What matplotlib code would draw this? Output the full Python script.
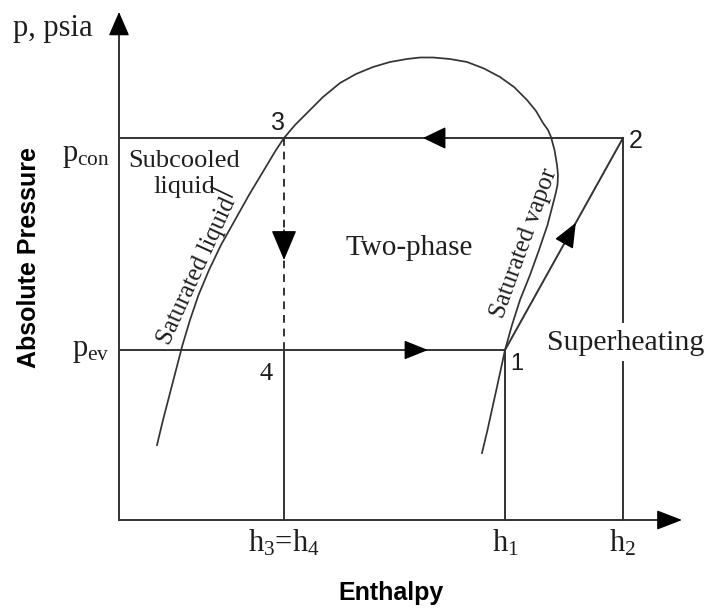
import matplotlib
matplotlib.use('Agg')
import matplotlib.pyplot as plt

plt.rcParams['mathtext.fontset'] = 'custom'
plt.rcParams['mathtext.rm'] = 'Liberation Serif'
plt.rcParams['mathtext.it'] = 'Liberation Serif:italic'
plt.rcParams['mathtext.bf'] = 'Liberation Serif:bold'

# ---- schematic data (enthalpy / pressure in arbitrary diagram units) ----
h3 = 165          # h3 = h4
h1 = 386
h2 = 504
p_ev = 170
p_con = 382
h_axis_max = 563
p_axis_max = 508

h_tick_pos = [h3, h1, h2]
h_tick_labels = ['h$_3$=h$_4$', 'h$_1$', 'h$_2$']

# saturation dome (left: saturated liquid, right: saturated vapor)
dome_h = [38, 44, 50.5, 57, 63.5, 71, 79.5, 90, 102, 116, 130, 145, 157, 165,
          176, 188, 204, 221, 237, 254, 271, 288, 301, 314, 331, 348, 365, 381,
          395, 408, 417, 424, 429, 432, 435.5, 438, 439, 438.5, 437, 435, 428.5,
          420, 411, 401, 393, 386, 379.5, 374, 368.5, 363]
dome_p = [75, 100, 125, 150, 175, 200, 225, 250, 275, 300, 325, 350, 370, 382,
          395, 407, 423, 437, 446, 453, 458, 461, 462.5, 462.5, 461, 458, 451.5,
          443, 433, 420, 409, 397, 390, 383, 370, 355, 345, 335, 328, 320, 295,
          270, 245, 220, 195, 170, 140, 115, 90, 67]

# gap in the h2 line for the "Superheating" label
gap_p = [158, 198]

LC = '#333333'
TC = '#1e1e1e'
LW = 1.4

fig = plt.figure(figsize=(7.08, 6.08), dpi=100)
ax = fig.add_axes([0, 0, 1, 1])
ax.set_xlim(-119, 589)
ax.set_ylim(-88, 520)
ax.axis('off')


def head(tip, base, L=15, W=6.2):
    ax.annotate('', xy=tip, xytext=base,
                arrowprops=dict(arrowstyle=f'-|>,head_length={L},head_width={W}',
                                mutation_scale=1, color='black', lw=1,
                                shrinkA=0, shrinkB=0))

# axes
ax.plot([0, 0], [0, p_axis_max - 10], color=LC, lw=LW)
ax.plot([0, h_axis_max - 10], [0, 0], color=LC, lw=LW)
head((0, p_axis_max), (0, p_axis_max - 22), L=15, W=6.5)
head((h_axis_max, 0), (h_axis_max - 22, 0), L=16, W=6.2)

# cycle lines
ax.plot([0, h2], [p_con, p_con], color=LC, lw=LW)
ax.plot([0, h1], [p_ev, p_ev], color=LC, lw=LW)
ax.plot([h3, h3], [0, p_ev], color=LC, lw=LW)
ax.plot([h3, h3], [p_ev, p_con], color=LC, lw=LW, ls=(0, (4, 3)))
ax.plot([h1, h1], [0, p_ev], color=LC, lw=LW)
ax.plot([h2, h2], [0, gap_p[0]], color=LC, lw=LW)
ax.plot([h2, h2], [gap_p[1], p_con], color=LC, lw=LW)
ax.plot([h1, h2], [p_ev, p_con], color=LC, lw=LW)

# saturation dome
ax.plot(dome_h, dome_p, color=LC, lw=1.25, solid_joinstyle='round')

# direction arrows
head((304, p_con), (324, p_con), L=14.5, W=7)
head((309, p_ev), (288, p_ev), L=15, W=6)
head((h3, 260), (h3, 290), L=19, W=8)
t = 0.6
tip = (h1 + t * (h2 - h1), p_ev + t * (p_con - p_ev))
dh, dp = (h2 - h1), (p_con - p_ev)
n = (dh ** 2 + dp ** 2) ** 0.5
head(tip, (tip[0] - 22 * dh / n, tip[1] - 22 * dp / n), L=15.5, W=6.5)

serif = 'Liberation Serif'
sans = 'Liberation Sans'

# h labels
for x, lab in zip(h_tick_pos, h_tick_labels):
    ax.text(x, -32, lab, ha='center', va='baseline', fontsize=22,
            family=serif, color=TC)

# p labels
ax.text(-9, 359, r'p$_{\mathrm{con}}$', ha='right', va='baseline', fontsize=22,
        family=serif, color=TC)
ax.text(-9, 164, r'p$_{\mathrm{ev}}$', ha='right', va='baseline', fontsize=22,
        family=serif, color=TC)

ax.text(-106, 484, 'p, psia', ha='left', va='baseline', fontsize=22,
        family=serif, color=TC)
ax.text(-90, 262, 'Absolute Pressure', rotation=90, ha='center', va='center',
        fontsize=18, family=sans, weight='bold', color='black')
ax.text(272, -80, 'Enthalpy', ha='center', va='baseline', fontsize=18,
        family=sans, weight='bold', color='black')

# region labels
ax.text(9, 353, 'Subcooled', ha='left', va='baseline', fontsize=19,
        family=serif, color=TC)
ax.text(34, 327, 'liquid', ha='left', va='baseline', fontsize=19,
        family=serif, color=TC)
ax.plot([92, 113], [333, 323], color=TC, lw=1.2)
ax.text(78, 249, 'Saturated liquid', rotation=65.4, ha='center', va='center',
        rotation_mode='anchor', fontsize=18, family=serif, color=TC)
ax.text(405, 277, 'Saturated vapor', rotation=70.2, ha='center', va='center',
        rotation_mode='anchor', fontsize=18, family=serif, color=TC)
ax.text(290, 265, 'Two-phase', ha='center', va='baseline', fontsize=21,
        family=serif, color=TC)
ax.text(428, 170, 'Superheating', ha='left', va='baseline', fontsize=21.5,
        family=serif, color=TC)

# state points
ax.text(391, 150, '1', ha='left', va='baseline', fontsize=17, family=sans, color=TC)
ax.text(510, 372, '2', ha='left', va='baseline', fontsize=18, family=sans, color=TC)
ax.text(152, 390, '3', ha='left', va='baseline', fontsize=18, family=sans, color=TC)
ax.text(141, 140, '4', ha='left', va='baseline', fontsize=19, family=serif, color=TC)

fig.savefig('out.png', dpi=100)
